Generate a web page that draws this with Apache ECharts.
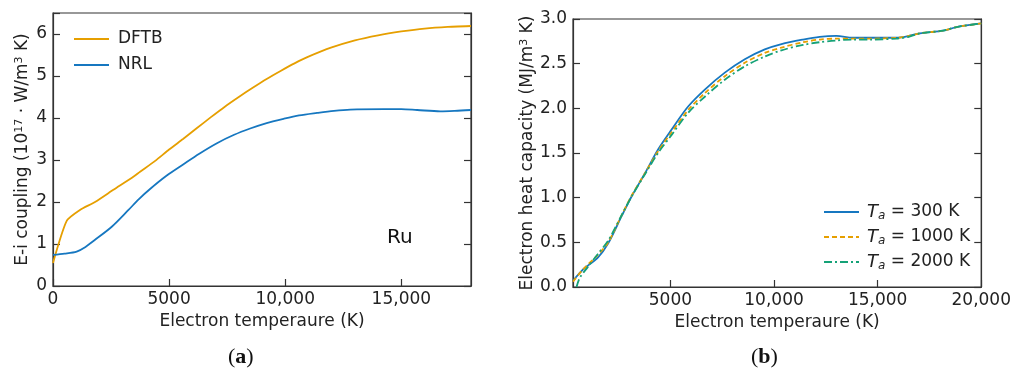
<!DOCTYPE html>
<html>
<head>
<meta charset="utf-8">
<script src="https://cdn.jsdelivr.net/npm/echarts@6/dist/echarts.min.js"></script>
<style>
  html, body { margin: 0; padding: 0; background: #fff; }
  #chart { width: 1014px; height: 369px; }
</style>
</head>
<body>
<div id="chart"></div>
<script>
// panel (a): e-i coupling for Ru
const tempDftb = [0, 590, 1160, 1810, 2600, 3460, 3750, 4400, 5000, 5600, 6200, 6800, 7400, 8000, 8600, 9200, 9800, 10400, 11000, 12000, 13000, 14000, 15000, 16000, 17000, 18000];
const dftb = [0.55, 1.55, 1.81, 2.0, 2.29, 2.6, 2.72, 2.98, 3.25, 3.5, 3.76, 4.02, 4.27, 4.5, 4.72, 4.93, 5.12, 5.3, 5.46, 5.68, 5.85, 5.97, 6.06, 6.13, 6.17, 6.19];
const tempNrl = [0, 500, 1020, 1400, 1810, 2530, 3250, 3700, 4180, 4900, 5620, 6300, 7060, 7800, 8490, 9200, 9930, 10600, 11370, 12100, 12800, 14240, 15000, 15680, 16680, 17300, 18000];
const nrl = [0.74, 0.77, 0.82, 0.93, 1.1, 1.41, 1.81, 2.07, 2.31, 2.63, 2.9, 3.15, 3.4, 3.6, 3.75, 3.88, 3.98, 4.06, 4.12, 4.17, 4.2, 4.21, 4.21, 4.19, 4.16, 4.17, 4.19];

// panel (b): electron heat capacity
const tempCap = [300, 800, 1500, 2000, 2640, 3120, 3765, 4405, 5050, 5855, 6660, 7625, 8590, 9555, 10360, 11400, 12200, 13015, 13800, 14620, 15910, 16500, 17040, 18160, 18810, 20000];
const cap300 = [0.07, 0.2, 0.33, 0.49, 0.79, 1.01, 1.27, 1.54, 1.76, 2.02, 2.21, 2.4, 2.55, 2.66, 2.72, 2.77, 2.8, 2.81, 2.79, 2.79, 2.79, 2.81, 2.84, 2.87, 2.91, 2.95];
const cap1000 = [0.06, 0.2, 0.36, 0.5, 0.8, 1.02, 1.27, 1.52, 1.73, 1.98, 2.17, 2.36, 2.51, 2.62, 2.68, 2.74, 2.77, 2.78, 2.78, 2.78, 2.79, 2.81, 2.84, 2.87, 2.91, 2.95];
const tempCap2000 = [470, 620, 1000, 1500, 2000, 2640, 3120, 3765, 4405, 5050, 5855, 6660, 7625, 8590, 9555, 10360, 11400, 12200, 13015, 13800, 14620, 15910, 16500, 17040, 18160, 18810, 20000];
const cap2000 = [0.0, 0.1, 0.22, 0.37, 0.52, 0.8, 1.01, 1.26, 1.5, 1.7, 1.95, 2.13, 2.32, 2.47, 2.58, 2.65, 2.71, 2.74, 2.76, 2.77, 2.77, 2.78, 2.8, 2.84, 2.87, 2.91, 2.95];

const xTicksA = [0, 5000, 10000, 15000];
const xTicksB = [5000, 10000, 15000, 20000];
const capNames = ['T_a = 300 K', 'T_a = 1000 K', 'T_a = 2000 K'];

const ORANGE = '#e69f00';
const BLUE = '#1677c0';
const GREEN = '#15a277';
const AXIS = '#333';
const TEXT = '#222';
const FONT = 'DejaVu Sans';
const FS = 17;

const zip = (xs, ys) => xs.map((x, i) => [x, ys[i]]);
const kfmt = (v) => (v >= 10000 ? v.toLocaleString('en-US') : String(v));

const tickStyle = { color: AXIS, width: 1.2 };

function xAxisBase(gridIndex, ticks) {
  return {
    type: 'value',
    gridIndex,
    nameLocation: 'middle',
    nameGap: 25,
    name: 'Electron temperaure (K)',
    nameTextStyle: { fontSize: FS, color: TEXT },
    splitLine: { show: false },
    axisLine: { lineStyle: tickStyle },
    axisTick: { inside: true, length: 7, customValues: ticks, lineStyle: tickStyle },
    axisLabel: { fontSize: FS, color: TEXT, margin: 5, customValues: ticks, formatter: kfmt },
  };
}

function yAxisBase(gridIndex) {
  return {
    type: 'value',
    gridIndex,
    splitLine: { show: false },
    axisLine: { show: true, lineStyle: tickStyle },
    axisTick: { inside: true, length: 7, lineStyle: tickStyle },
    axisLabel: { fontSize: FS, color: TEXT, margin: 6 },
  };
}

const supRich = {
  sup: { fontSize: 11, verticalAlign: 'top', padding: [0, 0, 6, 0], color: TEXT, fontFamily: FONT },
};

const chart = echarts.init(document.getElementById('chart'), null, { renderer: 'canvas' });

chart.setOption({
  animation: false,
  textStyle: { fontFamily: FONT },
  grid: [
    { left: 53, top: 13, width: 418, height: 273, show: true, borderColor: AXIS, borderWidth: 1.2 },
    { left: 573, top: 19, width: 410, height: 268, show: true, borderColor: AXIS, borderWidth: 1.2 },
  ],
  xAxis: [
    { ...xAxisBase(0, xTicksA), min: 0, max: 18000 },
    { ...xAxisBase(1, xTicksB), min: 300, max: 20000 },
  ],
  yAxis: [
    {
      ...yAxisBase(0),
      min: 0,
      max: 6.5,
      interval: 1,
      name: 'E-i coupling (10{sup|17} · W/m{sup|3} K)',
      nameLocation: 'middle',
      nameGap: 22,
      nameTextStyle: { fontSize: FS, color: TEXT, rich: supRich },
      axisLabel: { fontSize: FS, color: TEXT, margin: 6, formatter: (v) => (Number.isInteger(v) ? String(v) : '') },
    },
    { ...yAxisBase(0), position: 'right', min: 0, max: 6.5, interval: 1, axisLabel: { show: false } },
    {
      ...yAxisBase(1),
      min: 0,
      max: 3,
      interval: 0.5,
      name: 'Electron heat capacity (MJ/m{sup|3} K)',
      nameLocation: 'middle',
      nameGap: 37,
      nameTextStyle: { fontSize: FS, color: TEXT, rich: supRich },
      axisLabel: { fontSize: FS, color: TEXT, margin: 6, formatter: (v) => v.toFixed(1) },
    },
    { ...yAxisBase(1), position: 'right', min: 0, max: 3, interval: 0.5, axisLabel: { show: false } },
  ],
  legend: [
    {
      data: ['DFTB', 'NRL'],
      orient: 'vertical',
      left: 68,
      top: 24,
      itemWidth: 35,
      itemHeight: 14,
      itemGap: 6,
      itemStyle: { opacity: 0 },
      textStyle: { fontSize: FS, lineHeight: 20, color: TEXT, padding: [0, 0, 0, 4] },
    },
    {
      data: capNames,
      orient: 'vertical',
      left: 818,
      top: 197,
      itemWidth: 35,
      itemHeight: 14,
      itemGap: 5,
      itemStyle: { opacity: 0 },
      formatter: (name) => '{it|T}{sub|a} = ' + name.split('= ')[1],
      textStyle: {
        fontSize: FS,
        lineHeight: 20,
        color: TEXT,
        padding: [0, 0, 0, 3],
        rich: {
          it: { fontStyle: 'italic', fontSize: 18, lineHeight: 20, color: TEXT, fontFamily: FONT },
          sub: { fontStyle: 'italic', fontSize: 12, lineHeight: 20, verticalAlign: 'bottom', padding: [7, 0, 0, 0], color: TEXT, fontFamily: FONT },
        },
      },
    },
  ],
  graphic: [
    { type: 'text', left: 387, top: 228, style: { text: 'Ru', fontSize: 20, fill: '#111', fontFamily: FONT } },
    {
      type: 'text', left: 228, top: 346,
      style: { text: '({b|a})', fontSize: 22, fontFamily: 'Liberation Serif', fill: '#111',
        rich: { b: { fontWeight: 'bold', fontSize: 22, fontFamily: 'Liberation Serif', fill: '#111' } } },
    },
    {
      type: 'text', left: 751, top: 346,
      style: { text: '({b|b})', fontSize: 22, fontFamily: 'Liberation Serif', fill: '#111',
        rich: { b: { fontWeight: 'bold', fontSize: 22, fontFamily: 'Liberation Serif', fill: '#111' } } },
    },
  ],
  series: [
    {
      name: 'DFTB', type: 'line', xAxisIndex: 0, yAxisIndex: 0, symbol: 'none', smooth: 0.2,
      data: zip(tempDftb, dftb), lineStyle: { color: ORANGE, width: 1.8 }, itemStyle: { color: ORANGE },
    },
    {
      name: 'NRL', type: 'line', xAxisIndex: 0, yAxisIndex: 0, symbol: 'none', smooth: 0.3,
      data: zip(tempNrl, nrl), lineStyle: { color: BLUE, width: 1.8 }, itemStyle: { color: BLUE },
    },
    {
      name: capNames[0], type: 'line', xAxisIndex: 1, yAxisIndex: 2, symbol: 'none', smooth: 0.3,
      data: zip(tempCap, cap300), lineStyle: { color: BLUE, width: 1.8 }, itemStyle: { color: BLUE },
    },
    {
      name: capNames[1], type: 'line', xAxisIndex: 1, yAxisIndex: 2, symbol: 'none', smooth: 0.3,
      data: zip(tempCap, cap1000), lineStyle: { color: ORANGE, width: 1.8, type: [5, 3] }, itemStyle: { color: ORANGE },
    },
    {
      name: capNames[2], type: 'line', xAxisIndex: 1, yAxisIndex: 2, symbol: 'none', smooth: 0.3,
      data: zip(tempCap2000, cap2000), lineStyle: { color: GREEN, width: 1.8, type: [8, 3, 2, 3] }, itemStyle: { color: GREEN },
    },
  ],
});
</script>
</body>
</html>
